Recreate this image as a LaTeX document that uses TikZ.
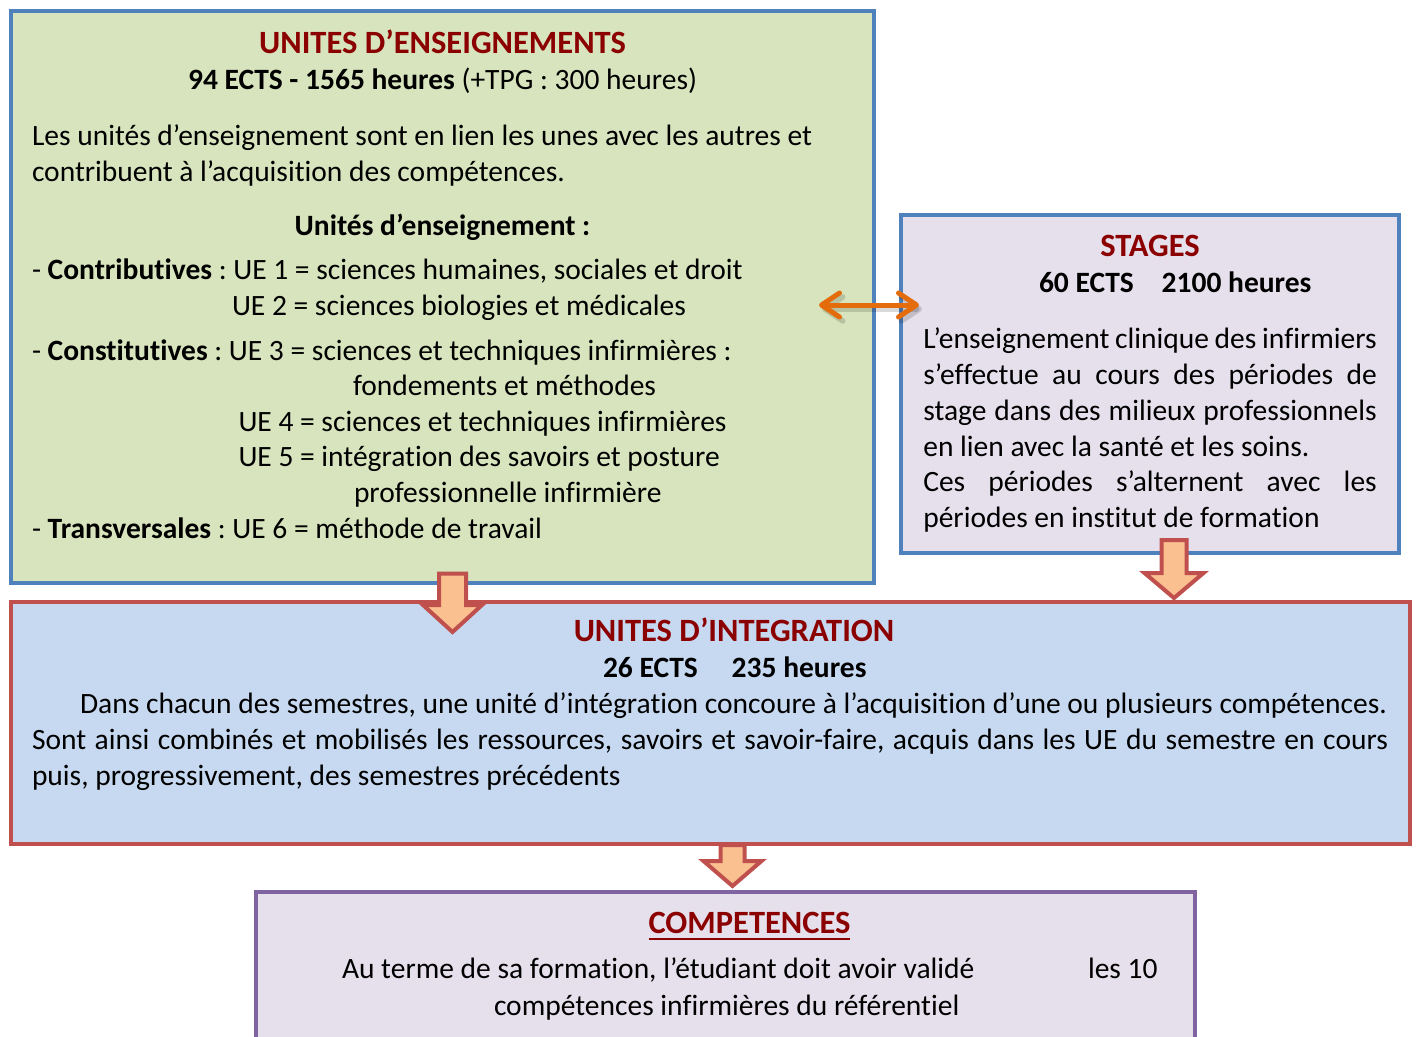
\documentclass[tikz,border=0pt]{standalone}
\usepackage{fontspec}
\setmainfont{Carlito}[Ligatures=NoCommon]
\usetikzlibrary{arrows.meta}
\frenchspacing
\definecolor{uegreen}{HTML}{D7E4BD}
\definecolor{bordblue}{HTML}{4F81BD}
\definecolor{lav}{HTML}{E5E0EC}
\definecolor{intblue}{HTML}{C6D9F1}
\definecolor{bordred}{HTML}{C0504D}
\definecolor{bordpurple}{HTML}{8064A2}
\definecolor{arrfill}{HTML}{FAC090}
\definecolor{dorange}{HTML}{E46C0A}
\definecolor{titlered}{HTML}{8B0000}
\newcommand\fsz{\fontsize{29.5}{36}\selectfont\frenchspacing}
\newcommand\fszt{\fontsize{32.5}{38}\selectfont\frenchspacing}
\newcommand\blkarrow[6]{%
  \draw[blockarrow] (#1-#5,#2) -- (#1+#5,#2) -- (#1+#5,#3) -- (#1+#6,#3) -- (#1,#4) -- (#1-#6,#3) -- (#1-#5,#3) -- cycle;}
\begin{document}
\begin{tikzpicture}[x=1pt,y=-1pt,
  boxnode/.style={line width=4pt, inner sep=0pt, outer sep=0pt},
  txt/.style={anchor=base west, inner sep=0pt, outer sep=0pt, font=\fsz},
  boldtxt/.style={txt, font=\fsz\bfseries},
  ctxt/.style={anchor=base, inner sep=0pt, outer sep=0pt, font=\fsz},
  ttl/.style={ctxt, font=\fszt\bfseries, text=titlered},
  blockarrow/.style={fill=arrfill, draw=bordred, line width=4pt, miter limit=10},
  dblarrow/.style={line cap=round, {Straight Barb[length=18pt,width=24pt,round]}-{Straight Barb[length=18pt,width=24pt,round]}},
]
\useasboundingbox (0,0) rectangle (1418,1036);
\clip (0,0) rectangle (1418,1036);
\fill[white] (0,0) rectangle (1418,1036);

% boxes
\node[boxnode, draw=bordblue, fill=uegreen, minimum width=863pt, minimum height=572pt] (ue) at (442.5,297) {};
\node[boxnode, draw=bordblue, fill=lav, minimum width=498pt, minimum height=338pt] (st) at (1150,384) {};
\node[boxnode, draw=bordred, fill=intblue, minimum width=1399pt, minimum height=242pt] (ig) at (710.5,722.5) {};
\node[boxnode, draw=bordpurple, fill=lav, minimum width=939pt, minimum height=170pt] (cp) at (725.5,977) {};

% UE text
\node[ttl] (t1) at (442.5,53) {UNITES D’ENSEIGNEMENTS};
\node[ctxt] (t2) at (442.5,89) {\textbf{94 ECTS - 1565 heures} (+TPG : 300 heures)};
\node[txt] (p1) at (32,145) {Les unités d’enseignement sont en lien les unes avec les autres et};
\node[txt] (p2) at (32,181) {contribuent à l’acquisition des compétences.};
\node[ctxt, font=\fsz\bfseries] (t3) at (442.5,235) {Unités d’enseignement :};
\node[txt] (l1) at (32,279.5) {- \textbf{Contributives} : UE 1 = sciences humaines, sociales et droit};
\node[txt] (l2) at (232,315) {UE 2 = sciences biologies et médicales};
\node[txt] (l3) at (32,360) {- \textbf{Constitutives} : UE 3 = sciences et techniques infirmières :};
\node[txt] (l4) at (353,395) {fondements et méthodes};
\node[txt] (l5) at (238.5,431) {UE 4 = sciences et techniques infirmières};
\node[txt] (l6) at (238.5,466.5) {UE 5 = intégration des savoirs et posture};
\node[txt] (l7) at (354,502) {professionnelle infirmière};
\node[txt] (l8) at (32,538.5) {- \textbf{Transversales} : UE 6 = méthode de travail};

% STAGES text
\node[ttl] (s1) at (1150,256.5) {STAGES};
\node[boldtxt] (s2) at (1039,292.5) {60 ECTS\hspace{28pt}2100 heures};
\node[txt] (s3) at (923.3,348.3) {\makebox[453.4pt][s]{L’enseignement clinique des infirmiers}};
\node[txt] (s4) at (923.3,384.2) {\makebox[453.4pt][s]{s’effectue au cours des périodes de}};
\node[txt] (s5) at (923.3,420.1) {\makebox[453.4pt][s]{stage dans des milieux professionnels}};
\node[txt] (s6) at (923.3,456) {en lien avec la santé et les soins.};
\node[txt] (s7) at (923.3,491.9) {\makebox[453.4pt][s]{Ces périodes s’alternent avec les}};
\node[txt] (s8) at (923.3,527.8) {périodes en institut de formation};

% INTEGRATION text
\node[ttl] (i1) at (734,641.5) {UNITES D’INTEGRATION};
\node[boldtxt] (i2) at (603,677.5) {26 ECTS\hspace{34pt}235 heures};
\node[txt] (i3) at (80,713.3) {\makebox[1307pt][s]{Dans chacun des semestres, une unité d’intégration concoure à l’acquisition d’une ou plusieurs compétences.}};
\node[txt] (i4) at (32,749.3) {\makebox[1356pt][s]{Sont ainsi combinés et mobilisés les ressources, savoirs et savoir-faire, acquis dans les UE du semestre en cours}};
\node[txt] (i5) at (32,785) {puis, progressivement, des semestres précédents};

% COMPETENCES text
\node[ttl] (c1) at (749.5,933.5) {COMPETENCES};
\draw[titlered, line width=2pt] ([yshift=-5.5pt]c1.base west) -- ([yshift=-5.5pt]c1.base east);
\node[txt] (c2) at (342,978) {Au terme de sa formation, l’étudiant doit avoir validé};
\node[txt] (c3) at (1088,978) {les 10};
\node[txt] (c4) at (494,1015.5) {compétences infirmières du référentiel};

% block arrows
\blkarrow{452.5}{573.5}{605}{632}{13.5}{29.5}
\blkarrow{1174}{540}{573}{598}{12.5}{29.5}
\blkarrow{732.5}{845}{861}{886}{12}{29}

% double arrow
\coordinate (dl) at (819,305);
\coordinate (dr) at (919,305);
\draw[dblarrow, line width=5.5pt, black, opacity=0.15] ([shift={(3,4)}]dl) -- ([shift={(3,4)}]dr);
\draw[dblarrow, line width=5pt, dorange] (dl) -- (dr);
\end{tikzpicture}
\end{document}
